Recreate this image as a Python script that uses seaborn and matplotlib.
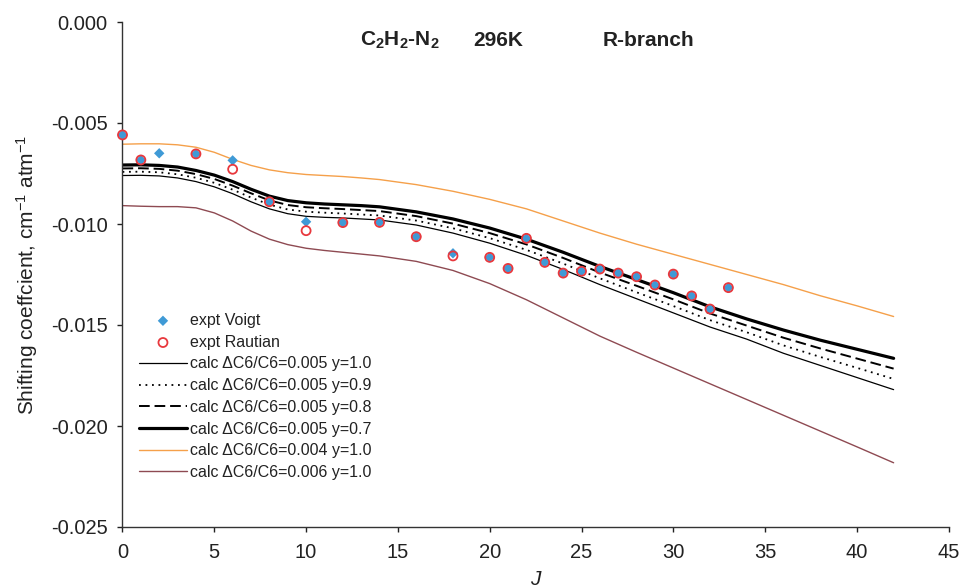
import matplotlib
matplotlib.use("Agg")
import matplotlib.pyplot as plt
import seaborn as sns
import numpy as np
import pandas as pd
from matplotlib.ticker import FormatStrFormatter

# ---------------- data ----------------
J_voigt = [0, 1, 2, 4, 6, 8, 10, 12, 14, 16, 18, 20, 21, 22, 23, 24, 25, 26, 27, 28, 29, 30, 31, 32, 33]
voigt = [-0.00559, -0.00683, -0.00650, -0.00653, -0.00685, -0.00890, -0.00989, -0.00993, -0.00992,
         -0.01063, -0.01145, -0.01165, -0.01220, -0.01071, -0.01190, -0.01243, -0.01234, -0.01223,
         -0.01243, -0.01261, -0.01302, -0.01248, -0.01356, -0.01421, -0.01315]

J_rautian = [0, 1, 4, 6, 8, 10, 12, 14, 16, 18, 20, 21, 22, 23, 24, 25, 26, 27, 28, 29, 30, 31, 32, 33]
rautian = [-0.00559, -0.00683, -0.00653, -0.00729, -0.00890, -0.01033, -0.00993, -0.00992,
           -0.01063, -0.01158, -0.01165, -0.01220, -0.01071, -0.01190, -0.01243, -0.01234, -0.01223,
           -0.01243, -0.01261, -0.01302, -0.01248, -0.01356, -0.01421, -0.01315]

J_calc = [0, 1, 2, 3, 4, 5, 6, 7, 8, 9, 10, 11, 12, 13, 14,
          16, 18, 20, 22, 24, 26, 28, 30, 32, 34, 36, 38, 40, 42]
calc_005_y10 = [-0.00760, -0.00759, -0.00762, -0.00772, -0.00790, -0.00816, -0.00850, -0.00890,
                -0.00925, -0.00949, -0.00962, -0.00967, -0.00970, -0.00975, -0.00980,
                -0.01005, -0.01045, -0.01095, -0.01155, -0.01225, -0.01300, -0.01370, -0.01440,
                -0.01510, -0.01570, -0.01640, -0.01700, -0.01760, -0.01820]
calc_005_y09 = [-0.00742, -0.00741, -0.00744, -0.00754, -0.00771, -0.00796, -0.00830, -0.00869,
                -0.00904, -0.00928, -0.00939, -0.00944, -0.00948, -0.00953, -0.00958,
                -0.00983, -0.01021, -0.01070, -0.01128, -0.01196, -0.01269, -0.01338, -0.01406,
                -0.01476, -0.01536, -0.01601, -0.01658, -0.01712, -0.01767]
calc_005_y08 = [-0.00725, -0.00724, -0.00727, -0.00736, -0.00753, -0.00777, -0.00810, -0.00848,
                -0.00883, -0.00906, -0.00917, -0.00922, -0.00926, -0.00931, -0.00936,
                -0.00961, -0.00998, -0.01045, -0.01101, -0.01168, -0.01240, -0.01306, -0.01373,
                -0.01443, -0.01503, -0.01563, -0.01616, -0.01666, -0.01716]
calc_005_y07 = [-0.00708, -0.00707, -0.00710, -0.00718, -0.00735, -0.00758, -0.00790, -0.00828,
                -0.00862, -0.00884, -0.00895, -0.00901, -0.00905, -0.00909, -0.00915,
                -0.00940, -0.00975, -0.01020, -0.01075, -0.01140, -0.01210, -0.01275, -0.01340,
                -0.01410, -0.01470, -0.01525, -0.01575, -0.01620, -0.01665]
calc_004_y10 = [-0.00605, -0.00603, -0.00603, -0.00608, -0.00620, -0.00645, -0.00680, -0.00710,
                -0.00732, -0.00746, -0.00755, -0.00760, -0.00765, -0.00772, -0.00780,
                -0.00805, -0.00838, -0.00878, -0.00925, -0.00985, -0.01045, -0.01100, -0.01150,
                -0.01200, -0.01250, -0.01300, -0.01355, -0.01405, -0.01458]
calc_006_y10 = [-0.00909, -0.00912, -0.00914, -0.00914, -0.00920, -0.00945, -0.00985, -0.01035,
                -0.01075, -0.01102, -0.01120, -0.01131, -0.01140, -0.01149, -0.01158,
                -0.01185, -0.01230, -0.01295, -0.01375, -0.01465, -0.01555, -0.01635, -0.01713,
                -0.01791, -0.01869, -0.01947, -0.02025, -0.02103, -0.02182]

x_ticks = [0, 5, 10, 15, 20, 25, 30, 35, 40, 45]
y_ticks = [-0.025, -0.020, -0.015, -0.010, -0.005, 0.0]

labels = ["expt Voigt", "expt Rautian",
          "calc \u0394C6/C6=0.005 y=1.0", "calc \u0394C6/C6=0.005 y=0.9",
          "calc \u0394C6/C6=0.005 y=0.8", "calc \u0394C6/C6=0.005 y=0.7",
          "calc \u0394C6/C6=0.004 y=1.0", "calc \u0394C6/C6=0.006 y=1.0"]

# ---------------- style ----------------
sns.set_style("ticks")
plt.rcParams['font.family'] = ['Liberation Sans', 'DejaVu Sans']
plt.rcParams['mathtext.fontset'] = 'custom'
plt.rcParams['mathtext.rm'] = 'Liberation Sans'
plt.rcParams['mathtext.it'] = 'Liberation Sans:italic'
plt.rcParams['mathtext.bf'] = 'Liberation Sans:bold'

TXT = '#222222'
fig = plt.figure(figsize=(9.6, 5.88), dpi=100)
ax = fig.add_axes([122.5 / 960, 1 - 527 / 588, (948.7 - 122.5) / 960, (527 - 22) / 588])

line_specs = [
    (calc_005_y10, dict(color="black", lw=0.9, ls="-")),
    (calc_005_y09, dict(color="black", lw=1.3, ls=(0, (1, 2.6)))),
    (calc_005_y08, dict(color="black", lw=1.4, ls=(0, (5.5, 2.5)))),
    (calc_005_y07, dict(color="black", lw=2.3, ls="-")),
    (calc_004_y10, dict(color="#f5a04a", lw=1.0, ls="-")),
    (calc_006_y10, dict(color="#8e4a52", lw=1.0, ls="-")),
]
for (vals, kw), lab in zip(line_specs, labels[2:]):
    sns.lineplot(x=J_calc, y=vals, ax=ax, label=lab, color=kw["color"],
                 linewidth=kw["lw"], linestyle=kw["ls"], legend=False)

sns.scatterplot(x=J_voigt, y=voigt, ax=ax, marker="D", s=28, color="#3f9ad6",
                edgecolor="none", linewidth=0, label=labels[0], legend=False, zorder=5, clip_on=False)
sns.scatterplot(x=J_rautian, y=rautian, ax=ax, marker="o", s=42, facecolor="none",
                edgecolor="#e8383d", linewidth=1.3, label=labels[1], legend=False, zorder=6, clip_on=False)

ax.set_xlim(0, 45)
ax.set_ylim(-0.025, 0.0)
ax.set_xticks(x_ticks)
ax.set_yticks(y_ticks)
ax.yaxis.set_major_formatter(FormatStrFormatter('%.3f'))
ax.tick_params(axis='both', direction='out', length=3.8, width=1.0, labelsize=14.5,
               colors=TXT)
ax.tick_params(axis='y', pad=7)
ax.tick_params(axis='x', pad=8)
for s in ['top', 'right']:
    ax.spines[s].set_visible(False)
for s in ['left', 'bottom']:
    ax.spines[s].set_color('#333333')
    ax.spines[s].set_linewidth(1.0)
ax.set_xlabel("")
ax.set_ylabel("")

fig.text(27 / 960, 1 - 275 / 588, "Shifting coeffcient, cm$^{-1}$ atm$^{-1}$", rotation=90,
         ha='center', va='center', fontsize=15, color=TXT)
fig.text(535 / 960, 1 - 570 / 588, "J", ha='center', va='top', fontsize=15,
         style='italic', color=TXT)

ty = 1 - 40 / 588
fig.text(360 / 960, ty, r"$\mathbf{C_2H_2}$-$\mathbf{N_2}$", ha='left', va='center',
         fontsize=15, fontweight='bold', color=TXT)
fig.text(473 / 960, ty, "296K", ha='left', va='center', fontsize=15,
         fontweight='bold', color=TXT)
fig.text(603 / 960, ty, "R-branch", ha='left', va='center', fontsize=15,
         fontweight='bold', color=TXT)

handles, labs = ax.get_legend_handles_labels()
hmap = dict(zip(labs, handles))
leg = ax.legend([hmap[l] for l in labels], labels, loc='upper left',
                bbox_to_anchor=(139 / 960, 1 - 313 / 588), bbox_transform=fig.transFigure,
                frameon=False, fontsize=11.5, handlelength=3.0, handletextpad=0.2,
                labelspacing=0.42, borderpad=0, borderaxespad=0)
for t in leg.get_texts():
    t.set_color(TXT)

fig.savefig("out.png", dpi=100)
